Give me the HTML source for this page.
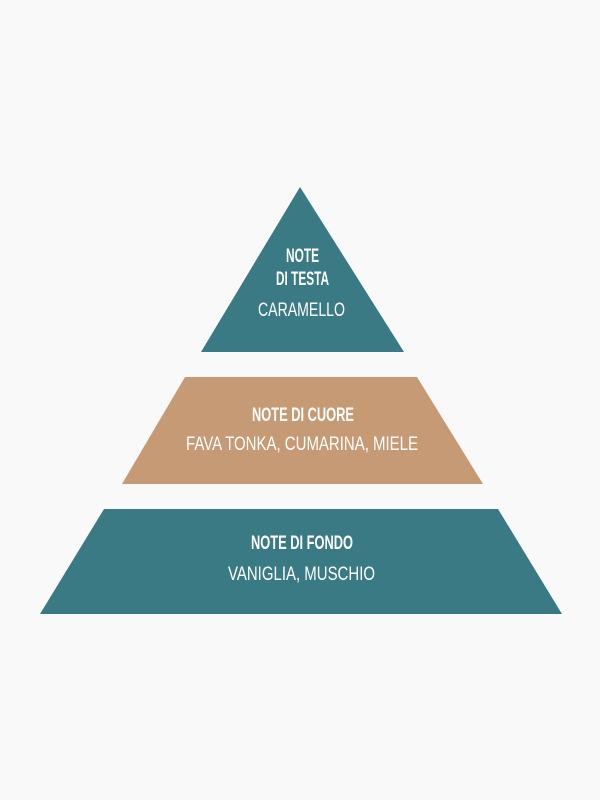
<!DOCTYPE html>
<html><head><meta charset="utf-8"><style>
html,body{margin:0;padding:0;background:#f9f9f9;}
svg{display:block}
text{font-family:"Liberation Sans Narrow","Liberation Sans",sans-serif;fill:#fff;font-size:19px;}
.b{font-weight:bold}
</style></head><body>
<svg width="600" height="800" viewBox="0 0 600 800">
<rect width="600" height="800" fill="#f9f9f9"/>
<polygon points="300,187 404,352 201,352" fill="#3a7a84"/>
<polygon points="185,377 417,377 483,484 122,484" fill="#c69a74"/>
<polygon points="104,509 498,509 562,614 40,614" fill="#3a7a84"/>
<text class="b" x="286" y="262" textLength="33" lengthAdjust="spacingAndGlyphs">NOTE</text>
<text class="b" x="276" y="285" textLength="53" lengthAdjust="spacingAndGlyphs">DI TESTA</text>
<text x="258" y="316" textLength="87" lengthAdjust="spacingAndGlyphs">CARAMELLO</text>
<text class="b" x="252" y="421" textLength="102" lengthAdjust="spacingAndGlyphs">NOTE DI CUORE</text>
<text x="186" y="450" textLength="232" lengthAdjust="spacingAndGlyphs">FAVA TONKA, CUMARINA, MIELE</text>
<text class="b" x="251" y="549" textLength="102" lengthAdjust="spacingAndGlyphs">NOTE DI FONDO</text>
<text x="228" y="580" textLength="147" lengthAdjust="spacingAndGlyphs">VANIGLIA, MUSCHIO</text>
</svg>
</body></html>
